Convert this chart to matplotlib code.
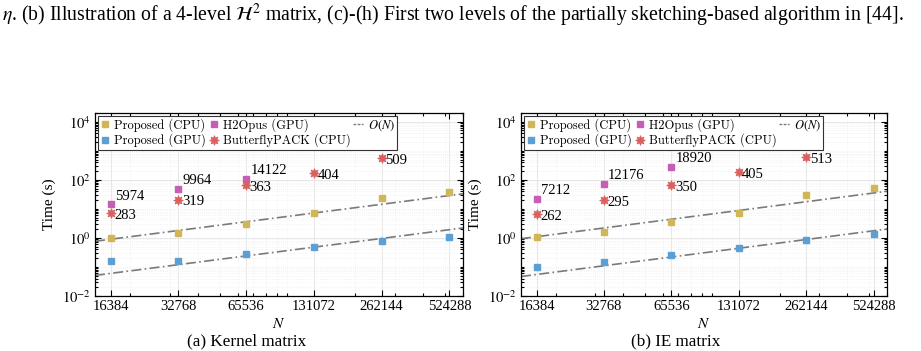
import numpy as np
import matplotlib
matplotlib.use('Agg')
import matplotlib.pyplot as plt
from matplotlib.ticker import FixedLocator, NullFormatter, LogLocator, FixedFormatter

plt.rcParams['font.family'] = ['Liberation Serif', 'DejaVu Serif']
plt.rcParams['mathtext.fontset'] = 'stix'

# problem sizes
N = [16384, 32768, 65536, 131072, 262144, 524288]
n_labels = ['16384', '32768', '65536', '131072', '262144', '524288']

# (a) kernel matrix timings (s)
kernel_cpu = [1.0, 1.48, 3.0, 7.2, 22.9, 38.8]
kernel_gpu = [0.16, 0.155, 0.275, 0.49, 0.79, 1.05]
kernel_h2opus = [14.2, 48, 106]
kernel_bfp = [7.2, 21, 66, 170, 550]
kernel_h2opus_txt = ['5974', '9964', '14122']
kernel_bfp_txt = ['283', '319', '363', '404', '509']
kernel_ref = [0.9, 0.06]   # O(N) reference values at N=16384

# (b) IE matrix timings (s)
ie_cpu = [1.05, 1.6, 3.4, 7.4, 30, 53]
ie_gpu = [0.096, 0.15, 0.26, 0.46, 0.85, 1.41]
ie_h2opus = [22, 73, 275]
ie_bfp = [6.6, 20, 65, 185, 590]
ie_h2opus_txt = ['7212', '12176', '18920']
ie_bfp_txt = ['262', '295', '350', '405', '513']
ie_ref = [1.1, 0.055]

C_CPU = '#cfb656'
C_GPU = '#5b9fd3'
C_H2 = '#c45fb5'
C_BF = '#d9605d'
C_REF = '#7a7a7a'

fig = plt.figure(figsize=(9.21, 3.51), dpi=100)

fig.text(0.002, 1 - 1.5 / 351,
         r'$\eta$. (b) Illustration of a 4-level $\mathcal{H}^2$ matrix, (c)-(h) First two levels '
         'of the partially sketching-based algorithm in [44].',
         fontsize=14.2, va='top', ha='left')

xmin, xmax = N[0] / 2 ** 0.23, N[-1] * 2 ** 0.2


def panel(ax, cpu, gpu, h2, bf, h2_txt, bf_txt, ref):
    ax.set_xscale('log')
    ax.set_yscale('log')
    ax.set_xlim(xmin, xmax)
    ax.set_ylim(1e-2, 2e4)

    ax.grid(True, which='major', color='#e3e3e3', lw=0.6, zorder=0)
    ax.grid(True, which='minor', color='#ececec', lw=0.5, ls=':', zorder=0)

    xs = np.array([xmin, xmax])
    ax.plot(xs, ref[0] * xs / N[0], color=C_REF, lw=1.2, ls=(0, (6, 2, 1, 2)), zorder=2)
    ax.plot(xs, ref[1] * xs / N[0], color=C_REF, lw=1.2, ls=(0, (6, 2, 1, 2)), zorder=2)

    ms = 5
    ax.plot(N, cpu, 's', color=C_CPU, ms=ms, ls='none', zorder=3, label='Proposed (CPU)')
    ax.plot(N, gpu, 's', color=C_GPU, ms=ms, ls='none', zorder=3, label='Proposed (GPU)')
    ax.plot(N[:len(h2)], h2, 's', color=C_H2, ms=ms, ls='none', zorder=3, label='H2Opus (GPU)')
    ax.plot(N[:len(bf)], bf, marker=(8, 1, 0), color=C_BF, mec=C_BF, mew=0.6, ms=7,
            ls='none', zorder=3, label='ButterflyPACK (CPU)')
    ax.plot([], [], color=C_REF, lw=1.0, ls=(0, (2, 1)), label='$O(N)$')

    for x, y, t in zip(N, h2, h2_txt):
        ax.annotate(t, (x, y), xytext=(3, 6), textcoords='offset points',
                    ha='left', va='center', fontsize=10.5, zorder=4)
    for x, y, t in zip(N, bf, bf_txt):
        ax.annotate(t, (x, y), xytext=(2.5, -1.5), textcoords='offset points',
                    ha='left', va='center', fontsize=10.5, zorder=4)

    ax.xaxis.set_major_locator(FixedLocator(N))
    ax.xaxis.set_major_formatter(FixedFormatter(n_labels))
    ax.xaxis.set_minor_locator(LogLocator(base=10, subs=np.arange(1, 10)))
    ax.xaxis.set_minor_formatter(NullFormatter())
    ax.yaxis.set_major_locator(FixedLocator([1e-2, 1e0, 1e2, 1e4]))
    ax.yaxis.set_major_formatter(FixedFormatter([r'$10^{-2}$', r'$10^{0}$', r'$10^{2}$', r'$10^{4}$']))
    ax.yaxis.set_minor_locator(LogLocator(base=10, subs=np.arange(1, 10), numticks=30))
    ax.yaxis.set_minor_formatter(NullFormatter())

    ax.tick_params(which='both', direction='in', top=True, right=True, labelsize=10.5,
                   width=0.8, pad=3)
    ax.tick_params(which='major', length=4)
    ax.tick_params(which='minor', length=2)
    for s in ax.spines.values():
        s.set_linewidth(0.9)

    ax.set_xlabel('$N$', fontsize=11, labelpad=3)
    ax.set_ylabel('Time (s)', fontsize=11, labelpad=4)

    leg = ax.legend(loc='upper left', ncol=3, fancybox=False, framealpha=1,
                    edgecolor='#333333', handlelength=0.8,
                    handletextpad=0.35, columnspacing=0.2, borderpad=0.2,
                    labelspacing=0.15, borderaxespad=0.2,
                    prop={'family': 'cmr10', 'size': 9})
    leg.get_frame().set_linewidth(0.8)
    return leg


ax1 = fig.add_axes([95 / 921, (351 - 296) / 351, 368 / 921, 183 / 351])
ax2 = fig.add_axes([521 / 921, (351 - 296) / 351, 366 / 921, 183 / 351])
panel(ax1, kernel_cpu, kernel_gpu, kernel_h2opus, kernel_bfp,
      kernel_h2opus_txt, kernel_bfp_txt, kernel_ref)
panel(ax2, ie_cpu, ie_gpu, ie_h2opus, ie_bfp,
      ie_h2opus_txt, ie_bfp_txt, ie_ref)

fig.text(247 / 921, 1 - 341 / 351, '(a) Kernel matrix', ha='center', va='center', fontsize=12.3)
fig.text(676 / 921, 1 - 341 / 351, '(b) IE matrix', ha='center', va='center', fontsize=12.3)

fig.savefig('out.png', dpi=100)
